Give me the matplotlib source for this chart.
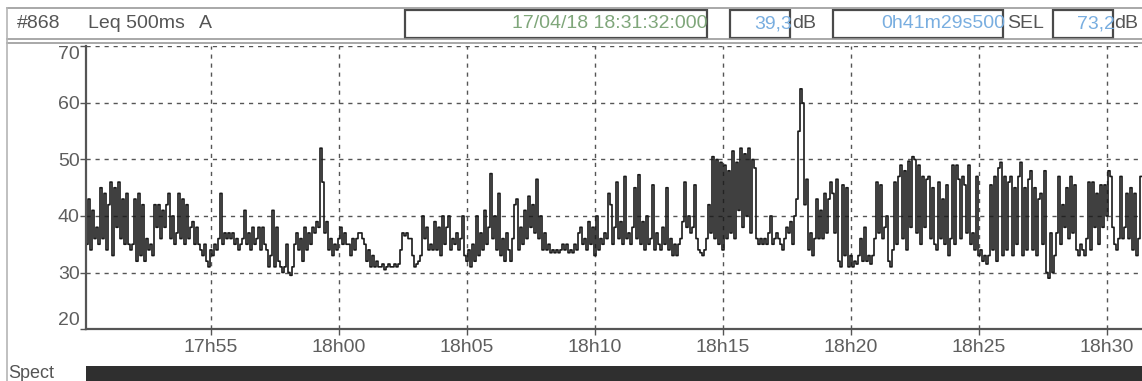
import numpy as np
import pandas as pd
import matplotlib
matplotlib.use('Agg')
import matplotlib.pyplot as plt
import matplotlib.dates as mdates
from matplotlib.patches import Rectangle

plt.rcParams['font.family'] = ['Liberation Sans', 'DejaVu Sans']

# visible time window of the recording
t_start = pd.Timestamp('2018-04-17 17:50:08')
t_end = pd.Timestamp('2018-04-17 18:31:22')

# Leq 500ms A levels (dB), one value per ~4.7 s
leq_db = [
    35, 43, 34, 41, 36, 38, 35, 45, 36, 44, 34, 42, 46, 33, 45, 38, 46, 36, 43, 35,
    44, 35, 34, 35, 43, 32, 44, 33, 42, 32, 36, 34, 35, 33, 42, 38, 42, 36, 41, 38,
    42, 44, 36, 40, 35, 37, 44, 36, 43, 35, 42, 36, 38, 39, 35, 38, 35, 34, 33, 35,
    32, 31, 34, 33, 35, 34, 36, 44, 35, 37, 36, 37, 36, 37, 35, 36, 34, 35, 36, 41,
    35, 37, 34, 38, 35, 36, 38, 34, 38, 35, 34, 31, 33, 41, 31, 38, 32, 31, 30, 31,
    35, 30, 29.5, 31, 35, 37, 34, 36, 32, 38, 34, 37, 35, 38, 37, 39, 38, 52, 46, 37,
    39, 34, 36, 33, 35, 34, 36, 38, 35, 37, 35, 35, 33, 36, 34, 36, 37, 37, 36, 35,
    32, 34, 31, 33, 31, 32, 31,
    # 17h59 - 18h14
    31, 31.5, 30.5, 31, 31.5, 31, 31, 31.5, 31, 31.5, 34, 37, 36.5, 37, 36, 36, 33, 31,
    31.5, 32, 33, 40, 36, 38, 34, 35, 34, 39, 34, 38, 33, 40, 35, 38, 40, 34, 36, 35,
    37, 34, 36, 40, 33, 32, 34, 31, 35, 32, 40, 33, 37, 34, 41, 35, 38, 47.5, 36, 40,
    34, 44, 33, 36, 32, 37, 34, 32, 36, 42, 43, 34, 38, 35, 41, 36, 43.5, 38, 42, 37,
    46.5, 36, 40, 34, 37, 34, 35, 33.5, 34, 33.5, 34, 33.5, 34, 35, 34, 35, 33.5, 34,
    33.5, 35, 34, 37, 38, 35, 36, 34, 39, 35, 38, 33, 40, 34, 36, 35, 37, 36, 44, 42,
    35, 38, 46, 36, 39, 35, 47, 36, 37, 35, 38, 45, 36, 47.3, 35, 39, 34, 40, 35, 36,
    45.5, 34, 37, 35, 34, 38, 35, 45, 34, 36, 33, 35, 33, 35, 36, 39, 46, 38, 40, 37,
    38, 45.5, 36, 34, 33.5, 33, 34, 36, 42, 37, 50.5, 36, 50, 35, 49.5, 34, 49, 36,
    48, 37, 51.5, 36, 49.5, 41, 52, 38, 51, 40, 52, 37, 50, 48.5, 36, 35,
    # 18h14 - 18h31
    36, 35, 36, 35, 37, 40, 35, 36, 37, 36, 35, 34, 36, 38, 37, 39, 35, 40, 43, 55,
    62.5, 60, 42, 46.5, 34, 37, 33, 36, 43, 36, 41, 36, 44, 37, 43, 46, 44, 37, 46.5, 32,
    31, 45.5, 33, 45, 31, 33, 31, 32, 31.5, 33, 36, 32, 38, 32, 33, 31.5, 33, 36, 46, 37,
    45.5, 36, 38, 40, 32, 31, 34, 46, 35, 47, 49, 36, 48, 34, 49.7, 38, 50.5, 50, 37, 49,
    35, 47, 38, 46.5, 47, 36, 45, 35, 34, 46, 36, 43, 35, 45.5, 33, 36, 49, 35, 49, 46.5,
    36, 47, 45.5, 37, 49, 35, 37, 34, 47, 33, 34, 32, 33, 31.5, 33, 45.5, 34, 47, 32, 48.5,
    49.5, 33, 47, 34, 46, 47, 33, 45, 35, 47, 49.5, 33, 45, 34, 46.5, 48, 34, 45, 33, 43,
    44, 35, 48, 30, 29, 37, 30, 33, 37, 47, 35, 42, 38, 45, 36, 47, 37, 45.5, 34, 33,
    35, 34, 33, 36, 46, 34, 46, 38, 44, 35, 45.5, 38, 45.5, 40, 48, 47, 38, 35, 34, 36,
    47, 36, 38, 44, 36, 45, 34, 44, 33, 36, 47,
]

y_ticks = [20, 30, 40, 50, 60, 70]
x_ticks = pd.date_range('2018-04-17 17:55', '2018-04-17 18:30', freq='5min')

header_left = ['#868', 'Leq 500ms', 'A']
date_text = '17/04/18 18:31:32:000'
leq_text = '39,3'
duration_text = '0h41m29s500'
sel_text = '73,2'

W, H = 1142, 381
fig = plt.figure(figsize=(W / 100, H / 100), dpi=100)

# full-figure layer in pixel units for the header strip and the bottom bar
bg = fig.add_axes([0, 0, 1, 1])
bg.set_xlim(0, W)
bg.set_ylim(H, 0)
bg.axis('off')

edge = '#9a9a9a'
dark = '#4a4a4a'
grey_txt = '#555555'
blue_txt = '#79aee0'
green_txt = '#7fa67a'

bg.plot([7, W], [8, 8], color=edge, lw=1.2)
bg.plot([7, W], [39, 39], color=edge, lw=1.2)
bg.plot([7, W], [43, 43], color=edge, lw=1.2)
bg.plot([7, 7], [8, H], color='#b5b5b5', lw=1.2)

for x0, x1 in [(405, 707), (730, 790), (833, 1003), (1053, 1113)]:
    bg.add_patch(Rectangle((x0, 10), x1 - x0, 28, fill=False, ec=dark, lw=1.6))

fs = 14
bg.text(17, 24, header_left[0], fontsize=fs, color=grey_txt, va='center')
bg.text(88, 24, header_left[1], fontsize=fs, color=grey_txt, va='center')
bg.text(199, 24, header_left[2], fontsize=fs, color=grey_txt, va='center')
bg.text(708, 24, date_text, fontsize=fs, color=green_txt, va='center', ha='right')
bg.text(792, 24, leq_text, fontsize=fs, color=blue_txt, va='center', ha='right')
bg.text(792, 24, 'dB', fontsize=fs, color=grey_txt, va='center')
bg.text(1005, 24, duration_text, fontsize=fs, color=blue_txt, va='center', ha='right')
bg.text(1007, 24, 'SEL', fontsize=fs, color=grey_txt, va='center')
bg.text(1115, 24, sel_text, fontsize=fs, color=blue_txt, va='center', ha='right')
bg.text(1114, 24, 'dB', fontsize=fs, color=grey_txt, va='center')

bg.text(8, 374, 'Spect', fontsize=13, color=grey_txt, va='center')
bg.add_patch(Rectangle((86, 366), W - 86, 16, color='#2f2f2f', lw=0))

# main level-vs-time plot
ax = fig.add_axes([86 / W, 1 - 329 / H, (W - 86) / W, (329 - 46.5) / H])
times = pd.date_range(t_start, t_end, periods=len(leq_db) + 1)
xs = mdates.date2num(times.to_pydatetime())
ys = list(leq_db) + [leq_db[-1]]
ax.step(xs, ys, where='post', color='#1a1a1a', lw=1.2)

ax.set_xlim(xs[0], xs[-1])
ax.set_ylim(20, 70)
ax.set_yticks(y_ticks)
ax.set_xticks(mdates.date2num(x_ticks.to_pydatetime()))
ax.xaxis.set_major_formatter(mdates.DateFormatter('%Hh%M'))

ax.grid(True, color='#555555', lw=1.0, linestyle=(0, (3, 3.5)))
ax.spines['top'].set_visible(False)
ax.spines['right'].set_visible(False)
for s in ['left', 'bottom']:
    ax.spines[s].set_color('#555555')
    ax.spines[s].set_linewidth(1.6)
ax.tick_params(colors='#555555', labelcolor='#5e5e5e', labelsize=14, length=4, width=1)
ax.tick_params(axis='y', pad=0.5)
ax.tick_params(axis='x', pad=3)

ylabels = ax.get_yticklabels()
ylabels[0].set_va('bottom')
ylabels[-1].set_va('top')

fig.savefig('out.png', dpi=100)
